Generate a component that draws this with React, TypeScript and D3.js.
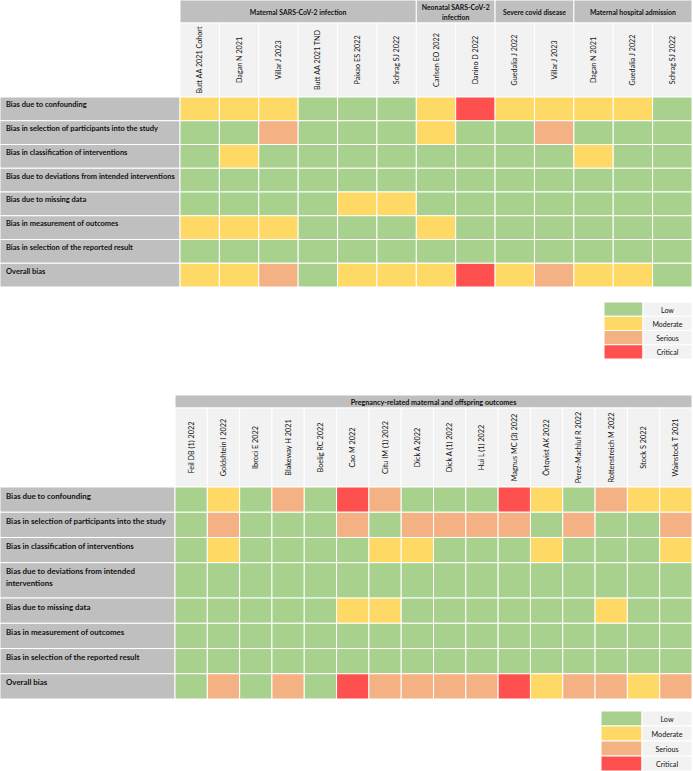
import React from 'react';
import * as d3 from 'd3';

// ---------- DATA ----------
const judgmentCodes = ['L', 'M', 'S', 'C'];
const judgmentLabels = ['Low', 'Moderate', 'Serious', 'Critical'];
const judgmentColors = ['#a9d18e', '#ffd966', '#f4b183', '#ff5050'];

const domainLabels = [
  'Bias due to confounding',
  'Bias in selection of participants into the study',
  'Bias in classification of interventions',
  'Bias due to deviations from intended interventions',
  'Bias due to missing data',
  'Bias in measurement of outcomes',
  'Bias in selection of the reported result',
  'Overall bias',
];

// Panel 1
const topGroupNames = [
  'Maternal SARS-CoV-2 infection',
  'Neonatal SARS-CoV-2 infection',
  'Severe covid disease',
  'Maternal hospital admission',
];
const topGroupSizes = [6, 2, 2, 3];
const topStudies = [
  'Butt AA 2021 Cohort', 'Dagan N 2021', 'Villar J 2023', 'Butt AA 2021 TND', 'Paixao ES 2022', 'Schrag SJ 2022',
  'Carlsen EO 2022', 'Danino D 2022',
  'Guedalia J 2022', 'Villar J 2023',
  'Dagan N 2021', 'Guedalia J 2022', 'Schrag SJ 2022',
];
const topRatings = [
  'MMMLLLMCMMMML',
  'LLSLLLMLLSLLL',
  'LMLLLLLLLLMLL',
  'LLLLLLLLLLLLL',
  'LLLLMMLLLLLLL',
  'MMMLLLMLLLLLL',
  'LLLLLLLLLLLLL',
  'MMSLMMMCMSMML',
];

// Panel 2
const bottomGroupNames = ['Pregnancy-related maternal and offspring outcomes'];
const bottomGroupSizes = [16];
const bottomStudies = [
  'Feil DB (1) 2022', 'Goldshtein I 2022', 'Ibroci E 2022', 'Blakeway H 2021', 'Boelig RC 2022', 'Cao M 2022',
  'Citu IM (1) 2022', 'Dick A 2022', 'Dick A (1) 2022', 'Hui L (1) 2022', 'Magnus MC (3) 2022', 'Örtqvist AK 2022',
  'Perez-Machluf R 2022', 'Rottenstreich M 2022', 'Stock S 2022', 'Wainstock T 2021',
];
const bottomRatings = [
  'LMLSLCSLLLCMLSMM',
  'LSLLLSLSSSSLSLLS',
  'LMLLLLMMLLLMLLLM',
  'LLLLLLLLLLLLLLLL',
  'LLLLLMMLLLLLLMLL',
  'LLLLLLLLLLLLLLLL',
  'LLLLLLLLLLLLLLLL',
  'LSLSLCSSSSCMSSMS',
];

// ---------- LAYOUT ----------
const W = 693;
const H = 771;
const FONT = 'Lato, "Open Sans", sans-serif';
const LABEL_BG = '#bfbfbf';
const HEAD_BG = '#f2f2f2';

const color = d3.scaleOrdinal<string, string>().domain(judgmentCodes).range(judgmentColors);

let ctx: CanvasRenderingContext2D | null = null;
function measure(text: string, font: string) {
  if (!ctx) ctx = document.createElement('canvas').getContext('2d');
  if (!ctx) return text.length * 3.4;
  ctx.font = font;
  return ctx.measureText(text).width;
}
function wrap(text: string, maxW: number, font: string) {
  const words = text.split(' ');
  const lines: string[] = [];
  let cur = '';
  words.forEach((w) => {
    const t = cur ? cur + ' ' + w : w;
    if (cur && measure(t, font) > maxW) {
      lines.push(cur);
      cur = w;
    } else cur = t;
  });
  if (cur) lines.push(cur);
  return lines;
}

type Cfg = {
  gridX0: number; gridX1: number; groupY: number; groupH: number; nameH: number; gridBottom: number;
  labelFs: number; nameFs: number; groupFs: number; textPadTop: number; wrapPad: number;
  legY: number; legRowH: number; legX: number; legSwW: number; legLabW: number; legFs: number;
};

const topCfg: Cfg = {
  gridX0: 180, gridX1: 692, groupY: 0, groupH: 23, nameH: 74, gridBottom: 287,
  labelFs: 7.5, nameFs: 7.2, groupFs: 6.9, textPadTop: 10.4, wrapPad: 6,
  legY: 302, legRowH: 14.25, legX: 604, legSwW: 39, legLabW: 49, legFs: 7,
};
const bottomCfg: Cfg = {
  gridX0: 175, gridX1: 692, groupY: 395, groupH: 13, nameH: 79, gridBottom: 699,
  labelFs: 7.9, nameFs: 7.3, groupFs: 7.2, textPadTop: 11.6, wrapPad: 14,
  legY: 711, legRowH: 15, legX: 601, legSwW: 41, legLabW: 50, legFs: 7.2,
};

function Panel({ cfg, groupNames, groupSizes, studies, ratings }: {
  cfg: Cfg; groupNames: string[]; groupSizes: number[]; studies: string[]; ratings: string[];
}) {
  const x = d3.scaleBand<number>().domain(d3.range(studies.length)).range([cfg.gridX0, cfg.gridX1]);
  const labelFont = `bold ${cfg.labelFs}px ${FONT}`;
  const labelLines = domainLabels.map((l) => wrap(l, cfg.gridX0 - cfg.wrapPad, labelFont));
  const units = labelLines.map((ls) => (ls.length > 1 ? 1.4 : 1));
  const cum = [0, ...d3.cumsum(units)];
  const gridTop = cfg.groupY + cfg.groupH + cfg.nameH;
  const y = d3.scaleLinear().domain([0, cum[cum.length - 1]]).range([gridTop, cfg.gridBottom]);
  const lineH = cfg.labelFs * 1.45;

  const groupStarts = [0, ...d3.cumsum(groupSizes)];
  const groupFont = `bold ${cfg.groupFs}px ${FONT}`;

  const ly = d3.scaleBand<number>().domain(d3.range(judgmentCodes.length))
    .range([cfg.legY, cfg.legY + cfg.legRowH * judgmentCodes.length]);

  return (
    <g>
      {/* group headers */}
      {groupNames.map((g, i) => {
        const gx0 = x(groupStarts[i])!;
        const gx1 = x(groupStarts[i + 1] - 1)! + x.bandwidth();
        const lines = wrap(g, gx1 - gx0 - 6, groupFont);
        const cy = cfg.groupY + cfg.groupH / 2 + 0.5;
        const lh = cfg.groupFs * 1.35;
        return (
          <g key={'g' + i}>
            <rect x={gx0} y={cfg.groupY} width={gx1 - gx0} height={cfg.groupH} fill={LABEL_BG} stroke="#fff" strokeWidth={1} />
            <text x={(gx0 + gx1) / 2} textAnchor="middle" fontFamily={FONT} fontWeight="bold" fontSize={cfg.groupFs} fill="#111">
              {lines.map((l, j) => (
                <tspan key={j} x={(gx0 + gx1) / 2} y={cy + (j - (lines.length - 1) / 2) * lh} dominantBaseline="central">{l}</tspan>
              ))}
            </text>
          </g>
        );
      })}
      {/* study names */}
      {studies.map((s, i) => {
        const cx = x(i)! + x.bandwidth() / 2;
        const cy = cfg.groupY + cfg.groupH + cfg.nameH / 2;
        return (
          <g key={'s' + i}>
            <rect x={x(i)!} y={cfg.groupY + cfg.groupH} width={x.bandwidth()} height={cfg.nameH} fill={HEAD_BG} stroke="#fff" strokeWidth={1} />
            <text transform={`translate(${cx},${cy}) rotate(-90)`} textAnchor="middle" dominantBaseline="central"
              fontFamily={FONT} fontSize={cfg.nameFs} fill="#111">{s}</text>
          </g>
        );
      })}
      {/* rows */}
      {domainLabels.map((d, r) => {
        const y0 = y(cum[r]);
        const y1 = y(cum[r + 1]);
        return (
          <g key={'r' + r}>
            <rect x={0} y={y0} width={cfg.gridX0} height={y1 - y0} fill={LABEL_BG} stroke="#fff" strokeWidth={1} />
            <text fontFamily={FONT} fontWeight="bold" fontSize={cfg.labelFs} fill="#111">
              {labelLines[r].map((l, j) => (
                <tspan key={j} x={6} y={y0 + cfg.textPadTop + j * lineH}>{l}</tspan>
              ))}
            </text>
            {ratings[r].split('').map((c, i) => (
              <rect key={i} x={x(i)!} y={y0} width={x.bandwidth()} height={y1 - y0} fill={color(c)} stroke="#fff" strokeWidth={1} />
            ))}
          </g>
        );
      })}
      {/* legend */}
      {judgmentCodes.map((c, i) => (
        <g key={'l' + i}>
          <rect x={cfg.legX} y={ly(i)!} width={cfg.legSwW} height={ly.bandwidth()} fill={color(c)} stroke="#fff" strokeWidth={1} />
          <rect x={cfg.legX + cfg.legSwW} y={ly(i)!} width={cfg.legLabW} height={ly.bandwidth()} fill={HEAD_BG} stroke="#fff" strokeWidth={1} />
          <text x={cfg.legX + cfg.legSwW + cfg.legLabW / 2} y={ly(i)! + ly.bandwidth() / 2 + 0.5} textAnchor="middle"
            dominantBaseline="central" fontFamily={FONT} fontSize={cfg.legFs} fill="#111">{judgmentLabels[i]}</text>
        </g>
      ))}
    </g>
  );
}

export default function App() {
  return (
    <svg width={W} height={H} viewBox={`0 0 ${W} ${H}`} style={{ position: 'absolute', left: 0, top: 0, background: '#fff' }}>
      <rect x={0} y={0} width={W} height={H} fill="#fff" />
      <Panel cfg={topCfg} groupNames={topGroupNames} groupSizes={topGroupSizes} studies={topStudies} ratings={topRatings} />
      <Panel cfg={bottomCfg} groupNames={bottomGroupNames} groupSizes={bottomGroupSizes} studies={bottomStudies} ratings={bottomRatings} />
    </svg>
  );
}
